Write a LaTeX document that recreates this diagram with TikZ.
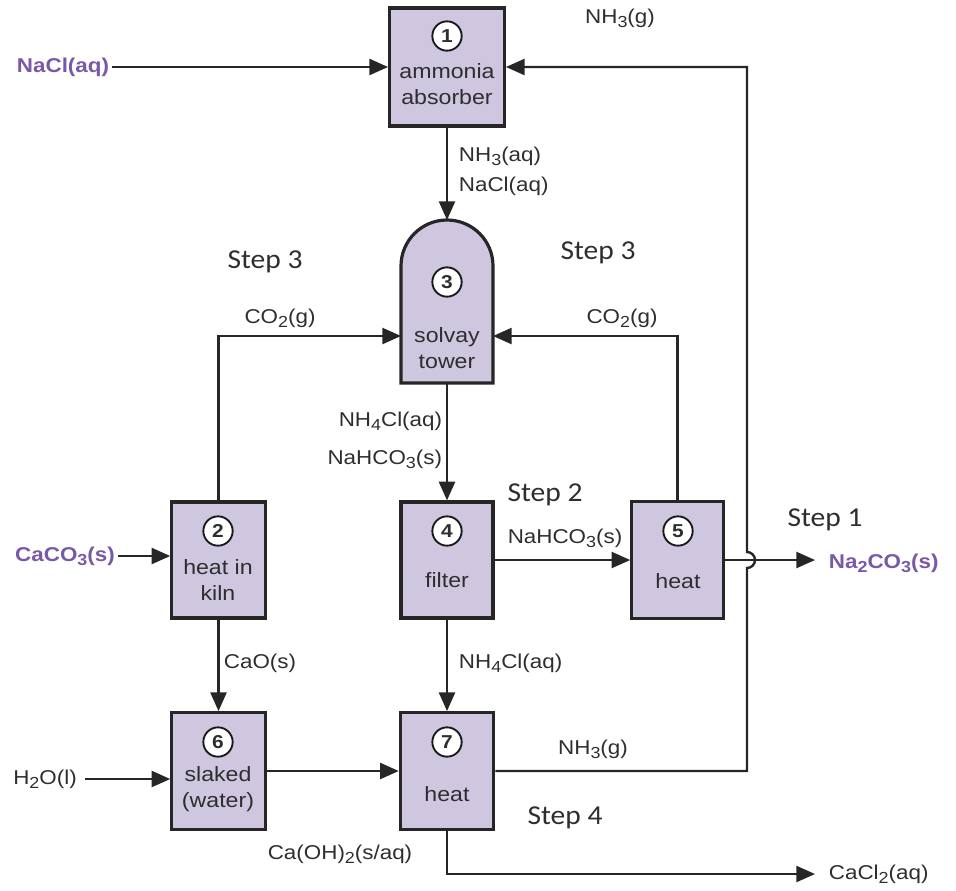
\documentclass[tikz,border=0pt]{standalone}
\usepackage{fontspec}
\setmainfont[FakeStretch=1.12]{Liberation Sans}
\newfontfamily\stepfont[FakeStretch=1.08]{Carlito}
\usetikzlibrary{arrows.meta}
\definecolor{boxfill}{HTML}{CFC6DF}
\definecolor{chempurple}{HTML}{7A58A8}
\definecolor{txt}{HTML}{2E2E2E}
\newcommand{\chsub}[1]{\raisebox{-0.4ex}{\fontsize{12}{12}\selectfont #1}}
\begin{document}
\begin{tikzpicture}[x=0.75pt,y=-0.75pt,
  box/.style={draw=black!85, line width=2.4pt, fill=boxfill, inner sep=0pt},
  num/.style={circle, draw=black!90, fill=white, line width=1.4pt, minimum size=22pt, inner sep=0pt, font=\fontsize{14}{16}\selectfont\bfseries, text=txt},
  btxt/.style={align=center, text=txt, font=\fontsize{15.5}{19}\selectfont, inner sep=0pt},
  lbl/.style={text=txt, font=\fontsize{15}{18}\selectfont, inner sep=2pt},
  chem/.style={text=chempurple, font=\fontsize{15}{18}\selectfont\bfseries, inner sep=2pt},
  steplbl/.style={text=txt, font=\stepfont\fontsize{20.5}{24}\selectfont, inner sep=0pt},
  arr/.style={draw=black!85, line width=1.8pt, -{Triangle[length=14pt,width=12pt]}},
  ln/.style={draw=black!85, line width=1.8pt}]
\useasboundingbox (0,0) rectangle (956,890);
% boxes
\node[box, minimum width=86pt, minimum height=88.5pt] (b1) at (447,67) {};
\node[box, minimum width=70pt, minimum height=87pt] (b2) at (218.5,560) {};
\node[box, minimum width=69pt, minimum height=87pt] (b4) at (447,560) {};
\node[box, minimum width=68.5pt, minimum height=88pt] (b5) at (677.5,560) {};
\node[box, minimum width=70pt, minimum height=87.5pt] (b6) at (218.5,771) {};
\node[box, minimum width=70pt, minimum height=87.5pt] (b7) at (447,771) {};
% solvay tower
\draw[draw=black!85, line width=2.4pt, fill=boxfill] (401,383) -- (401,266) arc (180:360:46) -- (493,383) -- cycle;
\coordinate (b3n) at (447,220);
\coordinate (b3s) at (447,383);
\coordinate (b3w) at (401,336);
\coordinate (b3e) at (493,336);
% numbers
\node[num] (n1) at (447,36) {1};
\node[num] (n2) at (218,531) {2};
\node[num] (n3) at (447,282) {3};
\node[num] (n4) at (447,531) {4};
\node[num] (n5) at (678,531) {5};
\node[num] (n6) at (218,742) {6};
\node[num] (n7) at (447,742) {7};
% box texts
\node[btxt] (t1) at (447,84) {ammonia\\absorber};
\node[btxt] (t3) at (447,348) {solvay\\tower};
\node[btxt] (t2) at (218,580) {heat in\\kiln};
\node[btxt] (t4) at (447,580) {filter};
\node[btxt] (t5) at (678,581) {heat};
\node[btxt] (t6) at (218,789) {slaked\\(water)};
\node[btxt] (t7) at (447,794) {heat};
% external chemicals
\node[chem] (nacl) at (63,67) {NaCl(aq)};
\node[chem] (caco3) at (65,556) {CaCO\chsub{3}(s)};
\node[chem, anchor=west] (na2co3) at (826,563) {Na\chsub{2}CO\chsub{3}(s)};
\node[lbl] (h2o) at (45,779) {H\chsub{2}O(l)};
\node[lbl, anchor=west] (cacl2) at (826,874) {CaCl\chsub{2}(aq)};
% labels
\node[lbl] (l1) at (620,18) {NH\chsub{3}(g)};
\node[lbl, anchor=west] (l2) at (456,156) {NH\chsub{3}(aq)};
\node[lbl, anchor=west] (l3) at (456,186) {NaCl(aq)};
\node[lbl] (l4) at (280,318) {CO\chsub{2}(g)};
\node[lbl] (l5) at (622,318) {CO\chsub{2}(g)};
\node[lbl, anchor=east] (l6) at (445,421) {NH\chsub{4}Cl(aq)};
\node[lbl, anchor=east] (l7) at (445,459) {NaHCO\chsub{3}(s)};
\node[lbl] (l8) at (565,538) {NaHCO\chsub{3}(s)};
\node[lbl] (l9) at (260,663) {CaO(s)};
\node[lbl, anchor=west] (l10) at (456,663) {NH\chsub{4}Cl(aq)};
\node[lbl] (l11) at (593,749) {NH\chsub{3}(g)};
\node[lbl] (l12) at (340,854) {Ca(OH)\chsub{2}(s/aq)};
% steps
\node[steplbl] (s3a) at (265,262) {Step 3};
\node[steplbl] (s3b) at (598,253) {Step 3};
\node[steplbl] (s2) at (545,495) {Step 2};
\node[steplbl] (s1) at (825,520) {Step 1};
\node[steplbl] (s4) at (565,818) {Step 4};
% connectors
\draw[arr] (nacl.east) -- (nacl.east -| b1.west);
\draw[arr] (b1.south) -- (b3n);
\draw[arr] (b2.north) |- (b3w);
\draw[arr] (b5.north) |- (b3e);
\draw[arr] (b3s) -- (b4.north);
\draw[arr] (b4.east) -- (b5.west);
\coordinate (na2tip) at (815,560);
\draw[arr] (b5.east) -- (na2tip);
\draw[arr] (caco3.east) -- (caco3.east -| b2.west);
\draw[arr] (b2.south) -- (b6.north);
\draw[arr] (b4.south) -- (b7.north);
\coordinate (h2oe) at (85,779);
\draw[arr] (h2oe) -- (h2oe -| b6.west);
\draw[arr] (b6.east) -- (b7.west);
\coordinate (j1) at (747,771);
\coordinate (j2) at (747,568);
\coordinate (j3) at (747,67);
\draw[arr] (b7.east) -- (j1) -- (j2) arc (90:-90:8) -- (j3) -- (b1.east);
\coordinate (ctip) at (815,874);
\draw[arr] (b7.south) |- (ctip);
\end{tikzpicture}
\end{document}
